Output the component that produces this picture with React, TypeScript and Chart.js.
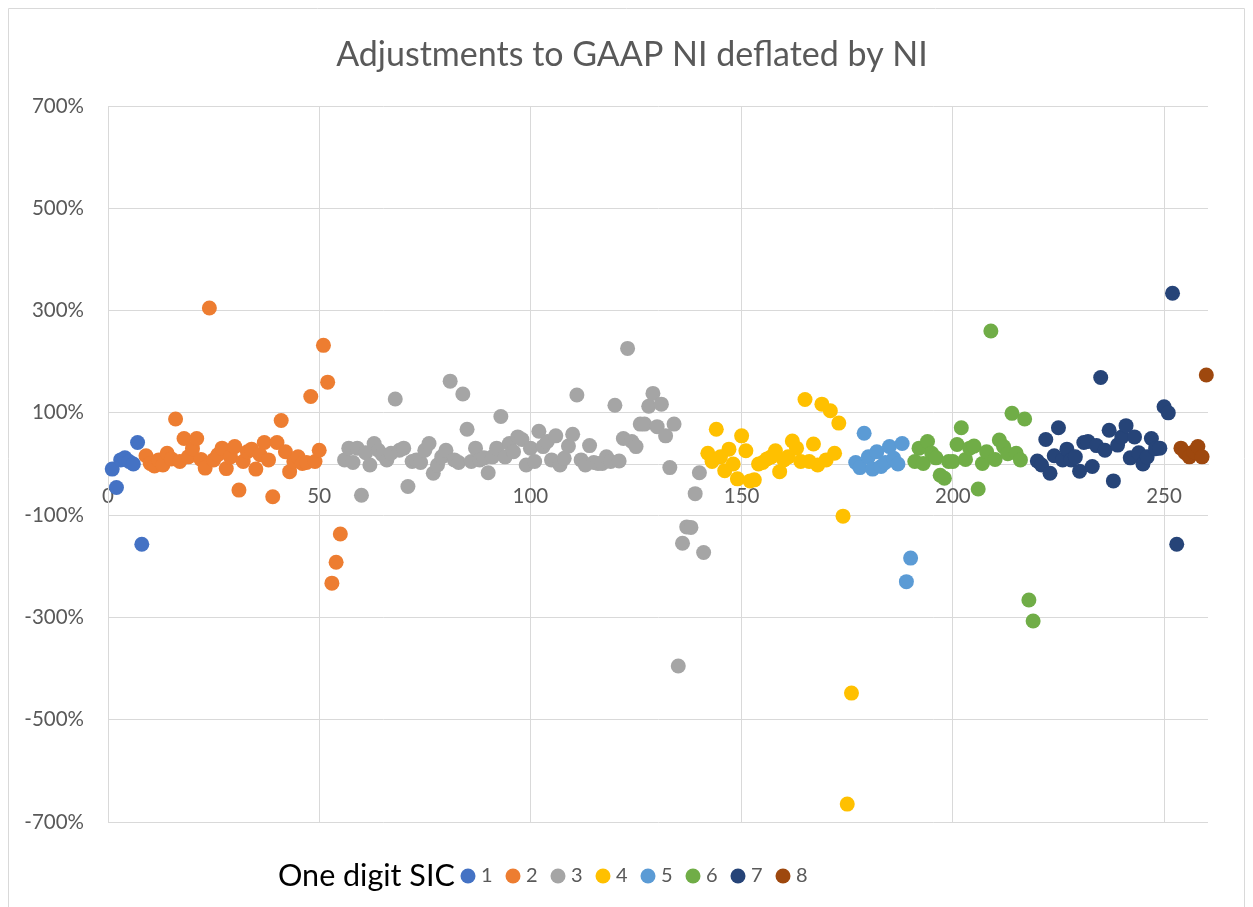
import React, { useEffect, useRef } from "react";
import { Chart, registerables } from "chart.js";

Chart.register(...registerables);

const CHART_TITLE = "Adjustments to GAAP NI deflated by NI";
const LEGEND_TITLE = "One digit SIC";
const SERIES_NAMES = ["1", "2", "3", "4", "5", "6", "7", "8"];
const SERIES_COLORS = ["#4472C4", "#ED7D31", "#A5A5A5", "#FFC000", "#5B9BD5", "#70AD47", "#264478", "#9E480E"];
// first observation number of each SIC group (observations are numbered consecutively)
const SERIES_START = [1, 9, 56, 142, 177, 191, 220, 254];

const sic1 = [-10, -46, 8, 12, 5, 0, 42, -157];
const sic2 = [16, 1, -4, 8, -2, 21, 10, 88, 5, 50, 14, 30, 50, 9, -8, 305, 8, 18, 31, -9, 14, 34, -51, 5, 24, 29, -10, 18, 42, 8, -64, 42, 85, 24, -15, 5, 14, 1, 3, 132, 5, 27, 232, 160, -233, -192, -137];
const sic3 = [8, 31, 3, 31, -61, 22, -2, 40, 27, 18, 8, 21, 127, 27, 31, -44, 5, 8, 3, 27, 40, -18, -2, 14, 27, 162, 8, 3, 137, 68, 5, 31, 8, 12, -17, 14, 31, 93, 14, 40, 24, 53, 48, -2, 31, 5, 64, 34, 44, 8, 55, -2, 11, 35, 58, 135, 8, -2, 36, 3, 1, 1, 14, 5, 115, 6, 50, 226, 44, 34, 78, 78, 113, 138, 73, 117, 55, -7, 78, -395, -155, -123, -124, -58, -17, -173];
const sic4 = [21, 5, 68, 14, -13, 29, 0, -29, 55, 26, -33, -31, 0, 3, 10, 14, 26, -15, 8, 14, 45, 31, 5, 126, 5, 39, -2, 117, 8, 104, 21, 80, -102, -665, -448];
const sic5 = [3, -7, 60, 14, -10, 24, -5, 3, 34, 11, 0, 40, -230, -184];
const sic6 = [5, 31, 1, 44, 21, 12, -22, -28, 5, 5, 38, 71, 9, 31, 35, -49, 1, 24, 260, 9, 47, 34, 20, 99, 21, 8, 88, -266, -307];
const sic7 = [6, -2, 48, -18, 16, 71, 8, 29, 8, 14, -14, 42, 44, -5, 36, 169, 27, 66, -33, 37, 53, 75, 12, 53, 22, 0, 14, 50, 30, 31, 112, 100, 334, -157];
const sic8 = [31, 22, 14, 24, 34, 14, 174];
const SERIES_VALUES = [sic1, sic2, sic3, sic4, sic5, sic6, sic7, sic8];

const X_MIN = 0;
const X_MAX = 260.4;
const X_TICKS = [0, 50, 100, 150, 200, 250];
const Y_MIN = -700;
const Y_MAX = 700;
const Y_TICKS = [-700, -500, -300, -100, 100, 300, 500, 700];

const FONT = "Lato, 'Open Sans', sans-serif";
const GRID = "#d9d9d9";
const TEXT = "#595959";

const decorPlugin = {
  id: "decor",
  afterDraw(chart: any) {
    const ctx = chart.ctx as CanvasRenderingContext2D;
    const w = chart.width;
    const h = chart.height;
    ctx.save();
    // outer frame
    ctx.strokeStyle = GRID;
    ctx.lineWidth = 1;
    ctx.beginPath();
    ctx.moveTo(0.5, h + 5);
    ctx.lineTo(0.5, 0.5);
    ctx.lineTo(w - 0.5, 0.5);
    ctx.lineTo(w - 0.5, h + 5);
    ctx.stroke();
    // title
    ctx.fillStyle = TEXT;
    ctx.font = `34px ${FONT}`;
    ctx.textAlign = "center";
    ctx.textBaseline = "middle";
    ctx.fillText(CHART_TITLE, 624, 47);
    // legend
    const ly = 868;
    ctx.fillStyle = "#000000";
    ctx.font = `30.5px ${FONT}`;
    ctx.textAlign = "left";
    ctx.fillText(LEGEND_TITLE, 270, ly);
    ctx.font = `20px ${FONT}`;
    chart.data.datasets.forEach((ds: any, i: number) => {
      const cx = 460 + i * 45;
      ctx.fillStyle = ds.backgroundColor;
      ctx.beginPath();
      ctx.arc(cx, ly, 7.5, 0, Math.PI * 2);
      ctx.fill();
      ctx.fillStyle = TEXT;
      ctx.fillText(ds.label, cx + 13, ly);
    });
    ctx.restore();
  },
};

export default function App() {
  const ref = useRef<HTMLCanvasElement | null>(null);
  useEffect(() => {
    if (!ref.current) return;
    const datasets = SERIES_VALUES.map((vals, i) => ({
      label: SERIES_NAMES[i],
      data: vals.map((v, j) => ({ x: SERIES_START[i] + j, y: v })),
      backgroundColor: SERIES_COLORS[i],
      borderWidth: 0,
      pointRadius: 7.5,
      pointHoverRadius: 7.5,
      order: 20 - i,
      clip: false as any,
    }));
    const chart = new Chart(ref.current, {
      type: "scatter",
      data: { datasets },
      options: {
        animation: false,
        responsive: false,
        devicePixelRatio: 1,
        layout: { padding: { top: 98, right: 37, bottom: 85, left: 0 } },
        plugins: {
          legend: { display: false },
          title: { display: false },
          tooltip: { enabled: false },
        },
        scales: {
          x: {
            type: "linear",
            min: X_MIN,
            max: X_MAX,
            position: { y: 0 } as any,
            afterBuildTicks: (s: any) => {
              s.ticks = X_TICKS.map((v) => ({ value: v }));
            },
            grid: { color: GRID, lineWidth: 1, drawTicks: false },
            border: { display: true, color: GRID, width: 1 },
            ticks: {
              padding: 20,
              color: TEXT,
              font: { family: FONT, size: 20.5 },
              maxRotation: 0,
              autoSkip: false,
            },
          },
          y: {
            type: "linear",
            min: Y_MIN,
            max: Y_MAX,
            afterBuildTicks: (s: any) => {
              s.ticks = Y_TICKS.map((v) => ({ value: v }));
            },
            afterFit: (s: any) => {
              s.width = 100;
            },
            grid: { color: GRID, lineWidth: 1, drawTicks: false },
            border: { display: true, color: GRID, width: 1 },
            ticks: {
              padding: 24,
              color: TEXT,
              font: { family: FONT, size: 20.5 },
              callback: (v: any) => `${v}%`,
              autoSkip: false,
            },
          },
        },
      },
      plugins: [decorPlugin],
    });
    return () => chart.destroy();
  }, []);
  return (
    <div style={{ width: 1237, height: 899 }}>
      <canvas ref={ref} width={1237} height={899} style={{ display: "block" }} />
    </div>
  );
}
